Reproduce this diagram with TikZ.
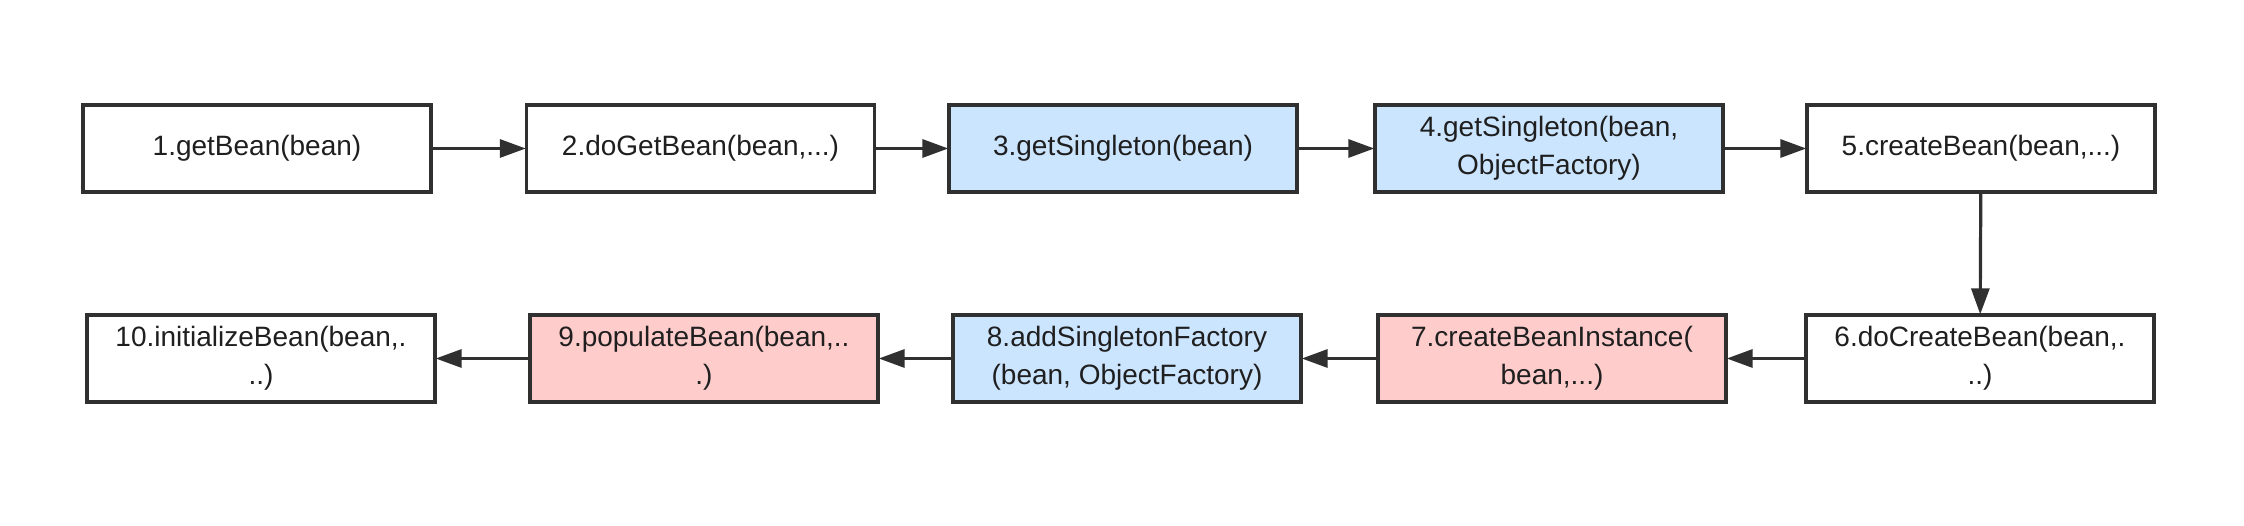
\documentclass[tikz,border=0pt]{standalone}
\usepackage{fontspec}
\setmainfont{Liberation Sans}
\usetikzlibrary{arrows.meta}
\definecolor{edge}{HTML}{303030}
\definecolor{bluefill}{HTML}{CCE5FF}
\definecolor{pinkfill}{HTML}{FFCCCC}
\begin{document}
\begin{tikzpicture}[x=1pt,y=-1pt,
  box/.style={draw=edge, line width=3.4pt, fill=white, minimum width=348pt, minimum height=87pt,
    inner sep=2pt, align=center, font=\fontsize{28pt}{38pt}\selectfont, text=black!88},
  bluebox/.style={box, fill=bluefill},
  pinkbox/.style={box, fill=pinkfill},
  conn/.style={draw=edge, line width=3.2pt, -{Triangle[length=26pt,width=18pt]}, shorten >=-1pt}
]
\useasboundingbox[fill=white] (0,0) rectangle (2244,526);
\node[box] (n1) at (257,148.5) {1.getBean(bean)};
\node[box] (n2) at (700.5,148.5) {2.doGetBean(bean,...)};
\node[bluebox] (n3) at (1123,148.5) {3.getSingleton(bean)};
\node[bluebox] (n4) at (1549,148.5) {4.getSingleton(bean,\\ObjectFactory)};
\node[box] (n5) at (1981,148.5) {5.createBean(bean,...)};
\node[box] (n6) at (1980,358.5) {6.doCreateBean(bean,.\\..)};
\node[pinkbox] (n7) at (1552,358.5) {7.createBeanInstance(\\bean,...)};
\node[bluebox] (n8) at (1127,358.5) {8.addSingletonFactory\\(bean, ObjectFactory)};
\node[pinkbox] (n9) at (704,358.5) {9.populateBean(bean,..\\.)};
\node[box] (n10) at (261,358.5) {10.initializeBean(bean,.\\..)};
\draw[conn] (n1) -- (n2);
\draw[conn] (n2) -- (n3);
\draw[conn] (n3) -- (n4);
\draw[conn] (n4) -- (n5);
\draw[conn] (n5) -- (n6);
\draw[conn] (n6) -- (n7);
\draw[conn] (n7) -- (n8);
\draw[conn] (n8) -- (n9);
\draw[conn] (n9) -- (n10);
\end{tikzpicture}
\end{document}
